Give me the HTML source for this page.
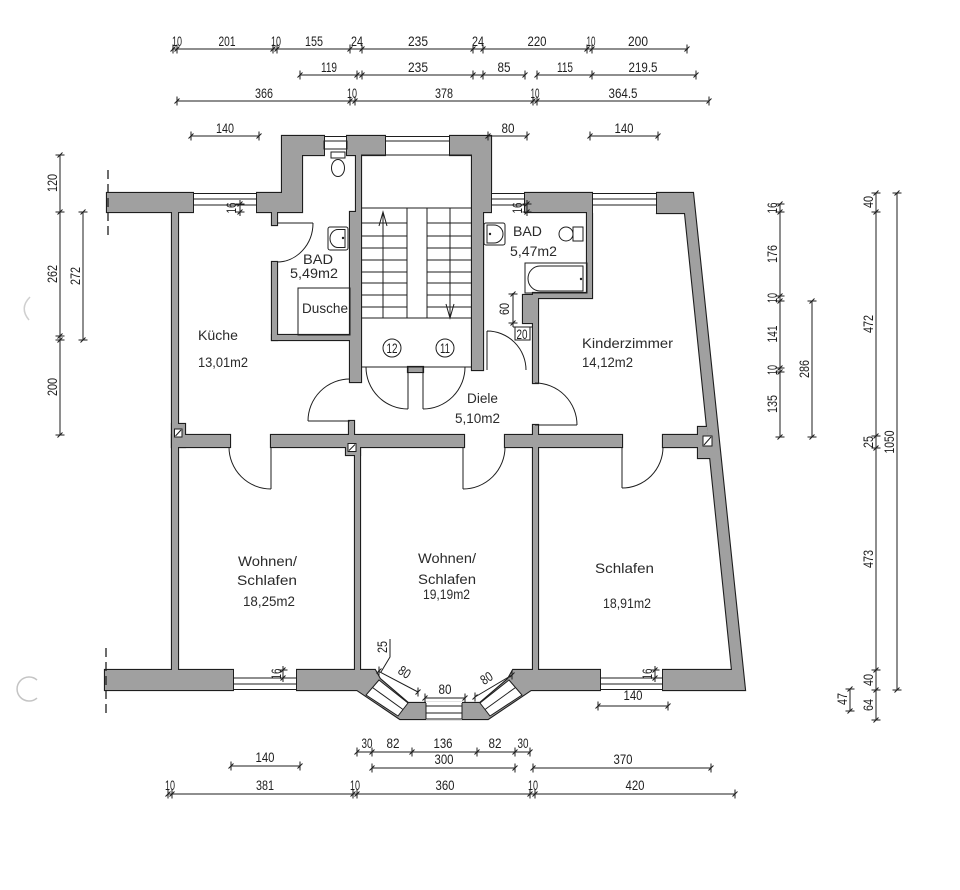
<!DOCTYPE html>
<html><head><meta charset="utf-8"><style>
html,body{margin:0;padding:0;background:#fff;}
svg{display:block}
.l{fill:none;stroke:#1e1e1e;stroke-width:1}
.dm{font-family:"Liberation Sans",sans-serif;font-size:13.5px;fill:#1e1e1e}
.rm{font-family:"Liberation Sans",sans-serif;font-size:13.5px;fill:#2a2a2a}
</style></head><body>
<svg width="960" height="890" viewBox="0 0 960 890" xmlns="http://www.w3.org/2000/svg">
<defs>
<path id="th" d="M0,-4.5V4.5M-2.5,2.5L2.5,-2.5" stroke="#1e1e1e" stroke-width="1" fill="none"/>
<path id="tv" d="M-4.5,0H4.5M-2.5,2.5L2.5,-2.5" stroke="#1e1e1e" stroke-width="1" fill="none"/>
<g id="W">
<rect x="107" y="193" width="86" height="19"/>
<polygon points="257,193 282,193 282,136 324,136 324,155 302,155 302,212 277,212 277,225 272,225 272,212 257,212"/>
<polygon points="347,136 385,136 385,155 361,155 361,382 350,382 350,212 356,212 356,155 347,155"/>
<polygon points="450,136 491,136 491,212 483,212 483,370 472,370 472,155 450,155"/>
<polygon points="525,193 592,193 592,298 538,298 538,383 533,383 533,293 587,293 587,212 525,212"/>
<rect x="523" y="295" width="10" height="28"/>
<polygon points="657,193 693,193 745,690 663,690 663,670 732,670 685,213 657,213"/>
<rect x="172" y="212" width="6" height="458"/>
<rect x="272" y="262" width="5" height="78"/>
<rect x="272" y="335" width="78" height="5"/>
<rect x="349" y="421" width="5" height="14"/>
<rect x="172" y="435" width="58" height="12"/>
<rect x="271" y="435" width="193" height="12"/>
<rect x="505" y="435" width="117" height="12"/>
<polygon points="663,435 708,435 710,447 663,447"/>
<rect x="172" y="424" width="13" height="23"/>
<rect x="346" y="441" width="14" height="14"/>
<polygon points="698,427 707,427 711,458 698,458"/>
<rect x="355" y="447" width="5" height="223"/>
<rect x="533" y="447" width="5" height="223"/>
<rect x="533" y="425" width="5" height="10"/>
<rect x="408" y="367" width="15" height="5"/>
<rect x="105" y="670" width="128" height="20"/>
<polygon points="297,670 375,670 380,679 408,703 480,703 508,679 513,670 600,670 600,690 531,690 488,719 400,719 357,690 297,690"/>
</g>
</defs>

<use href="#W" fill="#1e1e1e" stroke="#1e1e1e" stroke-width="2.2" stroke-linejoin="miter"/>
<use href="#W" fill="#a0a0a0"/>

<g fill="#fff" stroke="none">
<rect x="194" y="192" width="62" height="21"/>
<rect x="325" y="135" width="21" height="21"/>
<rect x="386" y="135" width="63" height="21"/>
<rect x="492" y="192" width="32" height="21"/>
<rect x="593" y="192" width="63" height="21"/>
<rect x="234" y="669" width="62" height="22"/>
<rect x="601" y="669" width="61" height="22"/>
<rect x="426" y="702" width="36" height="18"/>
<polygon points="366,695 398,716 408,703 379,680"/>
<polygon points="522,695 490,716 480,703 509,680"/>
</g>
<g class="l">
<path d="M193,193.5H257M193,199H257M193,205H257"/>
<path d="M324,136.5H347M324,141H347V149H324Z"/>
<path d="M385,136.5H450M385,141H450"/>
<path d="M491,193.5H525M491,199H525M491,205H525"/>
<path d="M592,193.5H657M592,199H657M592,205H657"/>
<path d="M233,678H297M233,684H297M233,689.5H297"/>
<path d="M600,678H663M600,684H663M600,689.5H663"/>
<path d="M426,703V719M462,703V719M426,706H462M426,713H462M426,719H462"/>
<path d="M366,695L398,716L408,703L379,680Z M372.5,687.5L403,709.5"/>
<path d="M522,695L490,716L480,703L509,680Z M515.5,687.5L485,709.5"/>
</g>

<path d="M108,170V237" stroke="#1e1e1e" stroke-width="1.3" stroke-dasharray="9,5"/>
<path d="M106,648V715" stroke="#1e1e1e" stroke-width="1.3" stroke-dasharray="9,5"/>

<g class="l">
<path d="M361,155H472M361,208H472M361,318H472M361,367H472"/>
<path d="M361,223H407M361,236H407M361,248H407M361,260H407M361,272H407M361,283H407M361,295H407M361,307H407"/>
<path d="M427,223H472M427,236H472M427,248H472M427,260H472M427,272H472M427,283H472M427,295H472M427,307H472"/>
<rect x="407" y="208" width="20" height="110"/>
<path d="M383,318V212M379,226L383,212L387,226"/>
<path d="M450,208V318M446,304L450,318L454,304"/>
<circle cx="392" cy="348" r="9"/>
<circle cx="445" cy="348" r="9"/>
</g>
<text class="dm" x="392" y="353" text-anchor="middle" textLength="11" lengthAdjust="spacingAndGlyphs">12</text>
<text class="dm" x="445" y="353" text-anchor="middle" textLength="10" lengthAdjust="spacingAndGlyphs">11</text>

<g class="l">
<path d="M277,223H313M313,223A36,39 0 0,1 277,262"/>
<path d="M350,421H308M308,421A42,42 0 0,1 350,379"/>
<path d="M408,367V409M366,367A42,42 0 0,0 408,409"/>
<path d="M423,367V409M423,409A42,42 0 0,0 465,367"/>
<path d="M487,370V331M487,331A39,39 0 0,1 526,370"/>
<path d="M535,425H577M577,425A42,42 0 0,0 535,383"/>
<path d="M271,447V489M229,447A42,42 0 0,0 271,489"/>
<path d="M463,447V489M463,489A42,42 0 0,0 505,447"/>
<path d="M622,447V488M622,488A41,41 0 0,0 663,447"/>
</g>

<g fill="#fff" stroke="#1e1e1e" stroke-width="1">
<rect x="174.5" y="429" width="7.5" height="8"/>
<rect x="348" y="443.5" width="8" height="8"/>
<rect x="703" y="436" width="9" height="10"/>
</g>
<g class="l">
<path d="M175.5,436L181,430M349,450.5L355,444.5M704,445L711,437"/>
</g>

<g class="l">
<rect x="331" y="152" width="14" height="6"/>
<ellipse cx="338" cy="168" rx="6.5" ry="8.5"/>
<rect x="328" y="227" width="20" height="23" rx="2"/>
<path d="M345,229.5V247.5H338A8,9 0 0,1 338,229.5Z"/>
<rect x="298" y="288" width="52" height="47"/>
<rect x="484" y="223" width="21" height="22" rx="2"/>
<path d="M487,225V243H494A9,9 0 0,0 494,225Z"/>
<circle cx="566" cy="234" r="7"/>
<rect x="573" y="227" width="10" height="14"/>
<rect x="525" y="263" width="62" height="30"/>
<path d="M583,266H540A12,12.5 0 0,0 540,291H583Z"/>
</g>
<circle cx="343" cy="238" r="1.2" fill="#1e1e1e"/>
<circle cx="490" cy="234" r="1.2" fill="#1e1e1e"/>
<circle cx="581" cy="279" r="1.2" fill="#1e1e1e"/>

<text class="rm" x="198" y="340" textLength="40" lengthAdjust="spacingAndGlyphs">Küche</text>
<text class="rm" x="198" y="367" textLength="50" lengthAdjust="spacingAndGlyphs">13,01m2</text>
<text class="rm" x="303" y="264" textLength="30" lengthAdjust="spacingAndGlyphs">BAD</text>
<text class="rm" x="290" y="278" textLength="48" lengthAdjust="spacingAndGlyphs">5,49m2</text>
<text class="rm" x="302" y="313" textLength="46" lengthAdjust="spacingAndGlyphs">Dusche</text>
<text class="rm" x="513" y="236" textLength="29" lengthAdjust="spacingAndGlyphs">BAD</text>
<text class="rm" x="510" y="256" textLength="47" lengthAdjust="spacingAndGlyphs">5,47m2</text>
<text class="rm" x="467" y="403" textLength="31" lengthAdjust="spacingAndGlyphs">Diele</text>
<text class="rm" x="455" y="423" textLength="45" lengthAdjust="spacingAndGlyphs">5,10m2</text>
<text class="rm" x="582" y="348" textLength="91" lengthAdjust="spacingAndGlyphs">Kinderzimmer</text>
<text class="rm" x="582" y="367" textLength="51" lengthAdjust="spacingAndGlyphs">14,12m2</text>
<text class="rm" x="238" y="566" textLength="59" lengthAdjust="spacingAndGlyphs">Wohnen/</text>
<text class="rm" x="237" y="585" textLength="60" lengthAdjust="spacingAndGlyphs">Schlafen</text>
<text class="rm" x="243" y="606" textLength="52" lengthAdjust="spacingAndGlyphs">18,25m2</text>
<text class="rm" x="418" y="563" textLength="58" lengthAdjust="spacingAndGlyphs">Wohnen/</text>
<text class="rm" x="418" y="584" textLength="58" lengthAdjust="spacingAndGlyphs">Schlafen</text>
<text class="rm" x="423" y="599" textLength="47" lengthAdjust="spacingAndGlyphs">19,19m2</text>
<text class="rm" x="595" y="573" textLength="59" lengthAdjust="spacingAndGlyphs">Schlafen</text>
<text class="rm" x="603" y="608" textLength="48" lengthAdjust="spacingAndGlyphs">18,91m2</text>

<g class="l"><path d="M172,49H688M300,75H525M537,75H696M177,101H709M191,136H259M488,136H527M590,136H658"/></g>
<use href="#th" x="173" y="49"/><use href="#th" x="177" y="49"/><use href="#th" x="273" y="49"/><use href="#th" x="277" y="49"/>
<use href="#th" x="350" y="49"/><use href="#th" x="362" y="49"/><use href="#th" x="473" y="49"/><use href="#th" x="483" y="49"/>
<use href="#th" x="587" y="49"/><use href="#th" x="592" y="49"/><use href="#th" x="687" y="49"/>
<use href="#th" x="300" y="75"/><use href="#th" x="357" y="75"/><use href="#th" x="362" y="75"/><use href="#th" x="473" y="75"/>
<use href="#th" x="483" y="75"/><use href="#th" x="525" y="75"/><use href="#th" x="537" y="75"/><use href="#th" x="592" y="75"/><use href="#th" x="696" y="75"/>
<use href="#th" x="177" y="101"/><use href="#th" x="350" y="101"/><use href="#th" x="355" y="101"/><use href="#th" x="533" y="101"/><use href="#th" x="537" y="101"/><use href="#th" x="709" y="101"/>
<use href="#th" x="191" y="136"/><use href="#th" x="259" y="136"/><use href="#th" x="488" y="136"/><use href="#th" x="527" y="136"/><use href="#th" x="590" y="136"/><use href="#th" x="658" y="136"/>
<g class="dm" text-anchor="middle">
<text x="177" y="46" textLength="10" lengthAdjust="spacingAndGlyphs">10</text>
<text x="227" y="46" textLength="17" lengthAdjust="spacingAndGlyphs">201</text>
<text x="276" y="46" textLength="10" lengthAdjust="spacingAndGlyphs">10</text>
<text x="314" y="46" textLength="18" lengthAdjust="spacingAndGlyphs">155</text>
<text x="357" y="46" textLength="12" lengthAdjust="spacingAndGlyphs">24</text>
<text x="418" y="46" textLength="20" lengthAdjust="spacingAndGlyphs">235</text>
<text x="478" y="46" textLength="12" lengthAdjust="spacingAndGlyphs">24</text>
<text x="537" y="46" textLength="19" lengthAdjust="spacingAndGlyphs">220</text>
<text x="591" y="46" textLength="9" lengthAdjust="spacingAndGlyphs">10</text>
<text x="638" y="46" textLength="20" lengthAdjust="spacingAndGlyphs">200</text>
<text x="329" y="72" textLength="16" lengthAdjust="spacingAndGlyphs">119</text>
<text x="418" y="72" textLength="20" lengthAdjust="spacingAndGlyphs">235</text>
<text x="504" y="72" textLength="13" lengthAdjust="spacingAndGlyphs">85</text>
<text x="565" y="72" textLength="16" lengthAdjust="spacingAndGlyphs">115</text>
<text x="643" y="72" textLength="29" lengthAdjust="spacingAndGlyphs">219.5</text>
<text x="264" y="98" textLength="18" lengthAdjust="spacingAndGlyphs">366</text>
<text x="352" y="98" textLength="10" lengthAdjust="spacingAndGlyphs">10</text>
<text x="444" y="98" textLength="18" lengthAdjust="spacingAndGlyphs">378</text>
<text x="535" y="98" textLength="9" lengthAdjust="spacingAndGlyphs">10</text>
<text x="623" y="98" textLength="29" lengthAdjust="spacingAndGlyphs">364.5</text>
<text x="225" y="133" textLength="18" lengthAdjust="spacingAndGlyphs">140</text>
<text x="508" y="133" textLength="13" lengthAdjust="spacingAndGlyphs">80</text>
<text x="624" y="133" textLength="19" lengthAdjust="spacingAndGlyphs">140</text>
</g>

<g class="l"><path d="M60,155V435M83,212V340"/></g>
<use href="#tv" x="60" y="155"/><use href="#tv" x="60" y="212"/><use href="#tv" x="60" y="336"/><use href="#tv" x="60" y="340"/><use href="#tv" x="60" y="435"/>
<use href="#tv" x="83" y="212"/><use href="#tv" x="83" y="340"/>
<g class="dm" text-anchor="middle">
<text x="57" y="183" transform="rotate(-90 57 183)" textLength="18" lengthAdjust="spacingAndGlyphs">120</text>
<text x="57" y="274" transform="rotate(-90 57 274)" textLength="18" lengthAdjust="spacingAndGlyphs">262</text>
<text x="57" y="387" transform="rotate(-90 57 387)" textLength="18" lengthAdjust="spacingAndGlyphs">200</text>
<text x="80" y="276" transform="rotate(-90 80 276)" textLength="18" lengthAdjust="spacingAndGlyphs">272</text>
</g>

<g class="l"><path d="M780,204V437M812,301V437M876,193V720M897,193V690M850,689V711"/></g>
<use href="#tv" x="780" y="204"/><use href="#tv" x="780" y="212"/><use href="#tv" x="780" y="296"/><use href="#tv" x="780" y="301"/>
<use href="#tv" x="780" y="368"/><use href="#tv" x="780" y="372"/><use href="#tv" x="780" y="437"/>
<use href="#tv" x="812" y="301"/><use href="#tv" x="812" y="437"/>
<use href="#tv" x="876" y="193"/><use href="#tv" x="876" y="212"/><use href="#tv" x="876" y="436"/><use href="#tv" x="876" y="448"/>
<use href="#tv" x="876" y="670"/><use href="#tv" x="876" y="690"/><use href="#tv" x="876" y="720"/>
<use href="#tv" x="897" y="193"/><use href="#tv" x="897" y="690"/>
<use href="#tv" x="850" y="689"/><use href="#tv" x="850" y="711"/>
<g class="dm" text-anchor="middle">
<text x="777" y="208" transform="rotate(-90 777 208)" textLength="11" lengthAdjust="spacingAndGlyphs">16</text>
<text x="777" y="254" transform="rotate(-90 777 254)" textLength="18" lengthAdjust="spacingAndGlyphs">176</text>
<text x="777" y="298" transform="rotate(-90 777 298)" textLength="10" lengthAdjust="spacingAndGlyphs">10</text>
<text x="777" y="334" transform="rotate(-90 777 334)" textLength="17" lengthAdjust="spacingAndGlyphs">141</text>
<text x="777" y="370" transform="rotate(-90 777 370)" textLength="10" lengthAdjust="spacingAndGlyphs">10</text>
<text x="777" y="404" transform="rotate(-90 777 404)" textLength="18" lengthAdjust="spacingAndGlyphs">135</text>
<text x="809" y="369" transform="rotate(-90 809 369)" textLength="18" lengthAdjust="spacingAndGlyphs">286</text>
<text x="873" y="202" transform="rotate(-90 873 202)" textLength="12" lengthAdjust="spacingAndGlyphs">40</text>
<text x="873" y="324" transform="rotate(-90 873 324)" textLength="18" lengthAdjust="spacingAndGlyphs">472</text>
<text x="873" y="442" transform="rotate(-90 873 442)" textLength="12" lengthAdjust="spacingAndGlyphs">25</text>
<text x="873" y="559" transform="rotate(-90 873 559)" textLength="18" lengthAdjust="spacingAndGlyphs">473</text>
<text x="873" y="680" transform="rotate(-90 873 680)" textLength="12" lengthAdjust="spacingAndGlyphs">40</text>
<text x="873" y="705" transform="rotate(-90 873 705)" textLength="12" lengthAdjust="spacingAndGlyphs">64</text>
<text x="894" y="442" transform="rotate(-90 894 442)" textLength="23" lengthAdjust="spacingAndGlyphs">1050</text>
<text x="847" y="699" transform="rotate(-90 847 699)" textLength="12" lengthAdjust="spacingAndGlyphs">47</text>
</g>

<g class="l"><path d="M240,200V216M527,200V216M283,666V682M655,666V682M513,293V327M513,327H533M515,327V340H530V327"/></g>
<use href="#tv" x="240" y="204"/><use href="#tv" x="240" y="212"/>
<use href="#tv" x="527" y="204"/><use href="#tv" x="527" y="212"/>
<use href="#tv" x="283" y="670"/><use href="#tv" x="283" y="678"/>
<use href="#tv" x="655" y="670"/><use href="#tv" x="655" y="678"/>
<use href="#tv" x="513" y="294"/><use href="#tv" x="513" y="323"/>
<g class="dm" text-anchor="middle">
<text x="236" y="208" transform="rotate(-90 236 208)" textLength="11" lengthAdjust="spacingAndGlyphs">16</text>
<text x="522" y="208" transform="rotate(-90 522 208)" textLength="11" lengthAdjust="spacingAndGlyphs">16</text>
<text x="281" y="674" transform="rotate(-90 281 674)" textLength="11" lengthAdjust="spacingAndGlyphs">16</text>
<text x="652" y="674" transform="rotate(-90 652 674)" textLength="11" lengthAdjust="spacingAndGlyphs">16</text>
<text x="509" y="309" transform="rotate(-90 509 309)" textLength="12" lengthAdjust="spacingAndGlyphs">60</text>
<text x="522" y="339" textLength="11" lengthAdjust="spacingAndGlyphs">20</text>
</g>

<g class="l"><path d="M390,639V657L381,672M378,671L418,692M425,698H465M475,697L512,675"/></g>
<use href="#th" x="379" y="671"/><use href="#th" x="418" y="692"/><use href="#th" x="425" y="698"/><use href="#th" x="465" y="698"/>
<use href="#th" x="475" y="697"/><use href="#th" x="512" y="675"/>
<g class="dm" text-anchor="middle">
<text x="387" y="647" transform="rotate(-90 387 647)" textLength="12" lengthAdjust="spacingAndGlyphs">25</text>
<text x="402" y="676" transform="rotate(33 402 676)" textLength="12" lengthAdjust="spacingAndGlyphs">80</text>
<text x="445" y="694" textLength="13" lengthAdjust="spacingAndGlyphs">80</text>
<text x="489" y="682" transform="rotate(-33 489 682)" textLength="12" lengthAdjust="spacingAndGlyphs">80</text>
</g>

<g class="l"><path d="M357,752H530M231,766H300M372,768H515M533,768H711M168,794H735"/></g>
<use href="#th" x="357" y="752"/><use href="#th" x="372" y="752"/><use href="#th" x="412" y="752"/><use href="#th" x="477" y="752"/><use href="#th" x="515" y="752"/><use href="#th" x="530" y="752"/>
<use href="#th" x="231" y="766"/><use href="#th" x="300" y="766"/>
<use href="#th" x="372" y="768"/><use href="#th" x="515" y="768"/><use href="#th" x="533" y="768"/><use href="#th" x="711" y="768"/>
<use href="#th" x="168" y="794"/><use href="#th" x="172" y="794"/><use href="#th" x="353" y="794"/><use href="#th" x="357" y="794"/>
<use href="#th" x="530" y="794"/><use href="#th" x="535" y="794"/><use href="#th" x="735" y="794"/>
<g class="dm" text-anchor="middle">
<text x="367" y="748" textLength="11" lengthAdjust="spacingAndGlyphs">30</text>
<text x="393" y="748" textLength="13" lengthAdjust="spacingAndGlyphs">82</text>
<text x="443" y="748" textLength="19" lengthAdjust="spacingAndGlyphs">136</text>
<text x="495" y="748" textLength="13" lengthAdjust="spacingAndGlyphs">82</text>
<text x="523" y="748" textLength="11" lengthAdjust="spacingAndGlyphs">30</text>
<text x="265" y="762" textLength="19" lengthAdjust="spacingAndGlyphs">140</text>
<text x="444" y="764" textLength="19" lengthAdjust="spacingAndGlyphs">300</text>
<text x="623" y="764" textLength="19" lengthAdjust="spacingAndGlyphs">370</text>
<text x="170" y="790" textLength="10" lengthAdjust="spacingAndGlyphs">10</text>
<text x="265" y="790" textLength="18" lengthAdjust="spacingAndGlyphs">381</text>
<text x="355" y="790" textLength="10" lengthAdjust="spacingAndGlyphs">10</text>
<text x="445" y="790" textLength="19" lengthAdjust="spacingAndGlyphs">360</text>
<text x="533" y="790" textLength="10" lengthAdjust="spacingAndGlyphs">10</text>
<text x="635" y="790" textLength="19" lengthAdjust="spacingAndGlyphs">420</text>
<text x="633" y="700" textLength="19" lengthAdjust="spacingAndGlyphs">140</text>
</g>
<g class="l"><path d="M598,706H668"/></g>
<use href="#th" x="598" y="706"/><use href="#th" x="668" y="706"/>

<path d="M30,297Q19,308 29,320" fill="none" stroke="#cfcfcf" stroke-width="1.5"/>
<path d="M37,680A12,12 0 1,0 37,698" fill="none" stroke="#c4c4c4" stroke-width="1.5"/>
</svg>
</body></html>
